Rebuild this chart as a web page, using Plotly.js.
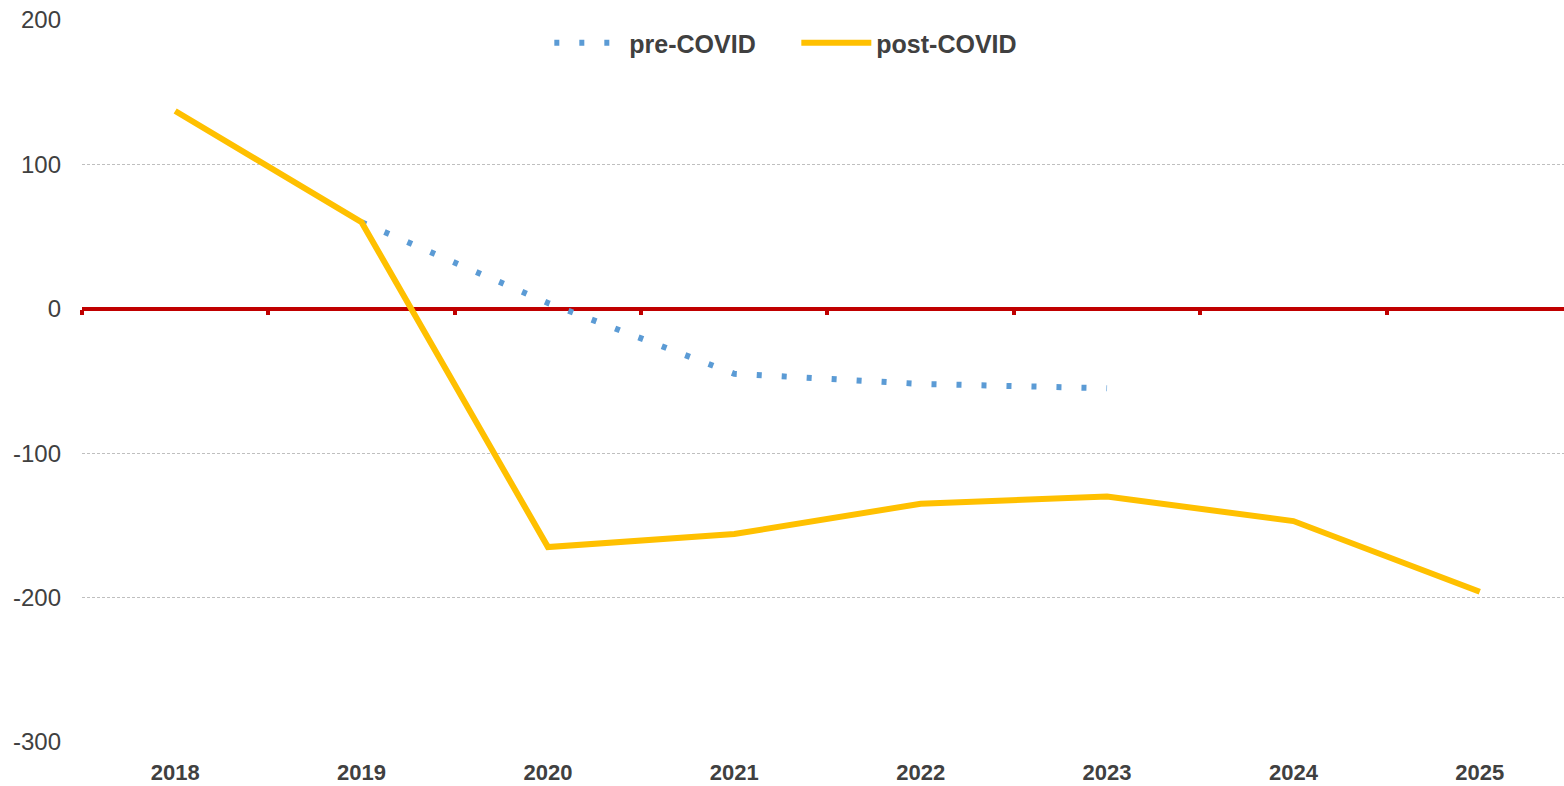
<!DOCTYPE html>
<html>
<head>
<meta charset="utf-8">
<script src="https://cdn.plot.ly/plotly-3.0.1.min.js"></script>
<style>
  html, body { margin: 0; padding: 0; background: #fff; }
  #chart { width: 1564px; height: 786px; }
</style>
</head>
<body>
<div id="chart"></div>
<script>
// ---- data ----
const years = ["2018", "2019", "2020", "2021", "2022", "2023", "2024", "2025"];
const postCovid = [137, 60, -165, -156, -135, -130, -147, -196];
const preCovidYears = ["2019", "2020", "2021", "2022", "2023"];
const preCovid = [60, 4, -45, -52, -55];
const yTickVals = [-300, -200, -100, 0, 100, 200];
const yTickText = ["-300", "-200", "-100", "0", "100", "200"];
const boundaryTicks = [-0.5, 0.5, 1.5, 2.5, 3.5, 4.5, 5.5, 6.5];

const idx = (y) => years.indexOf(y);
const xRange = [-0.5, 7.452];

const traces = [
  {
    x: preCovidYears.map(idx),
    y: preCovid,
    name: "pre-COVID",
    type: "scatter",
    mode: "lines",
    line: { color: "#5B9BD5", width: 6, dash: "5px,20px" },
    hoverinfo: "skip"
  },
  {
    x: years.map(idx),
    y: postCovid,
    name: "post-COVID",
    type: "scatter",
    mode: "lines",
    line: { color: "#FFC000", width: 6 },
    hoverinfo: "skip"
  },
  {
    // carrier for the tick marks on the zero line
    x: boundaryTicks,
    y: boundaryTicks.map(() => null),
    xaxis: "x2",
    yaxis: "y",
    type: "scatter",
    mode: "lines",
    showlegend: false,
    hoverinfo: "skip"
  }
];

const layout = {
  width: 1564,
  height: 786,
  margin: { l: 82, r: 0, t: 20, b: 44 },
  paper_bgcolor: "#ffffff",
  plot_bgcolor: "#ffffff",
  font: { family: "Liberation Sans, Arial, sans-serif", color: "#404040" },
  showlegend: true,
  legend: {
    orientation: "h",
    x: 0.482,
    xanchor: "center",
    y: 1.0,
    yanchor: "top",
    font: { family: "Liberation Sans, Arial, sans-serif", size: 25, color: "#404040", weight: "bold" },
    bgcolor: "rgba(0,0,0,0)",
    itemwidth: 70,
    entrywidth: 162,
    entrywidthmode: "pixels"
  },
  xaxis: {
    type: "linear",
    range: xRange,
    tickvals: years.map(idx),
    ticktext: years,
    showgrid: false,
    zeroline: false,
    showline: false,
    ticks: "",
    ticklabelstandoff: 15,
    tickfont: { family: "Liberation Sans, Arial, sans-serif", size: 22, color: "#404040", weight: "bold" }
  },
  xaxis2: {
    type: "linear",
    range: xRange,
    overlaying: "x",
    anchor: "free",
    position: 0.6,
    side: "bottom",
    tickvals: boundaryTicks,
    ticks: "outside",
    ticklen: 5,
    tickwidth: 4,
    tickcolor: "#C00000",
    showticklabels: false,
    showgrid: false,
    zeroline: false,
    showline: false
  },
  yaxis: {
    range: [-300, 200],
    tickvals: yTickVals,
    ticktext: yTickText,
    showgrid: true,
    gridcolor: "#BFBFBF",
    gridwidth: 1,
    griddash: "3px,2px",
    zeroline: true,
    zerolinecolor: "#C00000",
    zerolinewidth: 4,
    showline: false,
    ticks: "",
    ticklabelstandoff: 20,
    tickfont: { family: "Liberation Sans, Arial, sans-serif", size: 24, color: "#404040" }
  }
};

Plotly.newPlot("chart", traces, layout, { displayModeBar: false, staticPlot: true });
</script>
</body>
</html>
